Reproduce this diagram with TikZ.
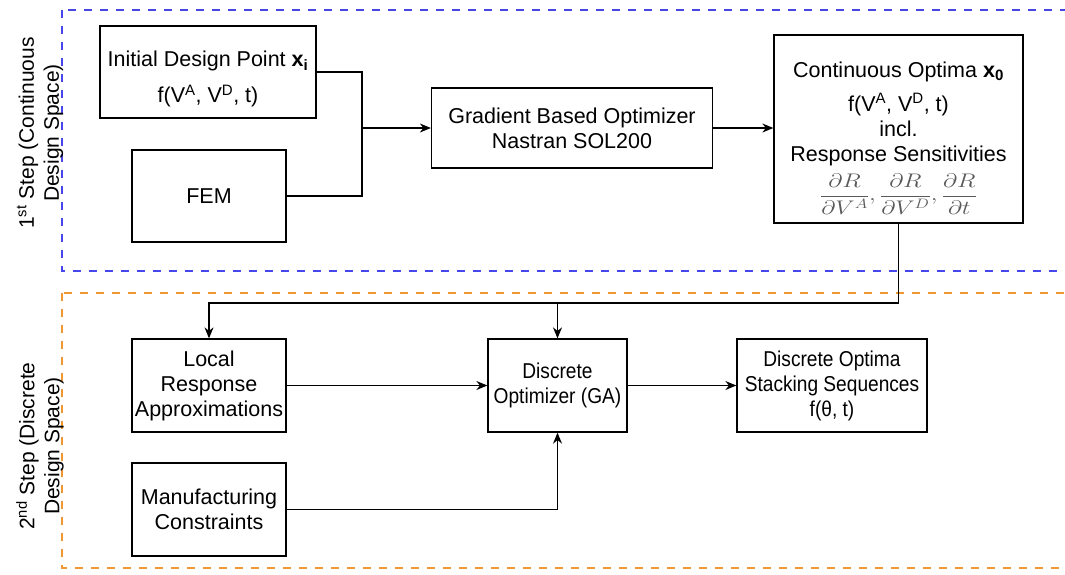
\documentclass[tikz,border=0pt]{standalone}
\usepackage{fontspec}
\usepackage{amsmath}
\setmainfont{Liberation Sans}
\newfontfamily\narrowfont[FakeStretch=0.89]{Liberation Sans}
\usetikzlibrary{arrows.meta}
\definecolor{stepblue}{RGB}{70,70,235}
\definecolor{steporange}{RGB}{240,150,50}

\begin{document}
\begin{tikzpicture}[x=1pt, y=-1pt,
  box/.style={draw, line width=1.3pt, align=center, inner sep=1pt,
    font=\fontsize{21.5}{25}\selectfont},
  smallbox/.style={box, font=\narrowfont\fontsize{21.5}{25}\selectfont},
  flow/.style={line width=1.3pt, -{Stealth[length=11pt, width=9pt]}},
  link/.style={line width=1.3pt},
  frame/.style={line width=2.2pt, dash pattern=on 8pt off 8pt}]
  \useasboundingbox (0,0) rectangle (1065,574);
  \clip (0,0) rectangle (1065,574);

  \draw[frame, stepblue] (62,10) rectangle (1080,271);
  \draw[frame, steporange] (62,293) rectangle (1080,568);
  \node[rotate=90, align=center, font=\fontsize{21}{25}\selectfont] (lbla) at (40,133)
    {1\textsuperscript{st} Step (Continuous\\Design Space)};
  \node[rotate=90, align=center, font=\fontsize{21}{25}\selectfont] (lblb) at (40,446)
    {2\textsuperscript{nd} Step (Discrete\\Design Space)};

  \node[box, minimum width=216pt, minimum height=92pt] (init) at (208,72)
    {\rule{0pt}{30pt}Initial Design Point \textbf{x\textsubscript{i}}\\[11pt]f(V\textsuperscript{A}, V\textsuperscript{D}, t)};
  \node[box, minimum width=154pt, minimum height=92pt] (fem) at (209,196) {FEM};
  \node[box, minimum width=281pt, minimum height=80pt] (grad) at (572,128)
    {Gradient Based Optimizer\\Nastran SOL200};
  \node[box, minimum width=249pt, minimum height=188pt] (cont) at (898.5,129)
    {\rule{0pt}{34pt}Continuous Optima \textbf{x\textsubscript{0}}\\[9pt]f(V\textsuperscript{A}, V\textsuperscript{D}, t)\\incl.\\Response Sensitivities\\[7pt]
     {\fontsize{20.74}{24}\selectfont\textcolor{black!65}{\scalebox{1.18}[0.95]{$\dfrac{\partial R}{\partial V^A},\dfrac{\partial R}{\partial V^D},\dfrac{\partial R}{\partial t}$}}}};

  \node[box, minimum width=154pt, minimum height=93pt] (local) at (209,385.5)
    {Local\\Response\\Approximations};
  \node[box, minimum width=154pt, minimum height=93pt] (manuf) at (209,509.5)
    {Manufacturing\\Constraints};
  \node[smallbox, minimum width=139pt, minimum height=93pt] (disc) at (557.5,385.5)
    {Discrete\\Optimizer (GA)};
  \node[smallbox, minimum width=190pt, minimum height=93pt] (dopt) at (832,385.5)
    {Discrete Optima\\Stacking Sequences\\f(θ, t)};

  \coordinate (join) at (362,128);
  \coordinate (split) at (898.5,303);
  \draw[link] (init.east) -| (join);
  \draw[link] (fem.east) -| (join);
  \draw[flow] (join) -- (grad.west);
  \draw[flow] (grad.east) -- (grad.east -| cont.west);
  \draw[flow] (cont.south) -- (split) -| (local.north);
  \draw[flow] (disc.north |- split) -- (disc.north);
  \draw[flow] (local.east) -- (disc.west);
  \draw[flow] (manuf.east) -| (disc.south);
  \draw[flow] (disc.east) -- (dopt.west);
\end{tikzpicture}
\end{document}
